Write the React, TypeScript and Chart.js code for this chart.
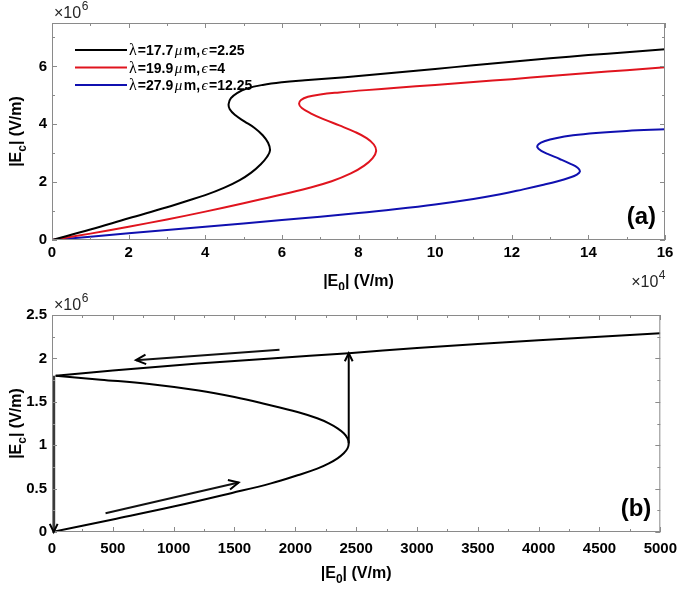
import React, { useEffect, useRef } from "react";
import { Chart, registerables } from "chart.js";
Chart.register(...registerables);

const SANS = '"Liberation Sans", Arial, sans-serif';
const SERIF = '"Liberation Serif", "DejaVu Serif", serif';

// ---------- Panel (a): |E0| in 1e4 V/m, |Ec| in 1e6 V/m ----------
const xTicksA = [0, 2, 4, 6, 8, 10, 12, 14, 16];
const xMinorA = [1, 3, 5, 7, 9, 11, 13, 15];
const yTicksA = [0, 2, 4, 6];
const yMinorA = [1, 3, 5, 7];

const legendLabels = ["λ=17.7μm,ϵ=2.25", "λ=19.9μm,ϵ=4", "λ=27.9μm,ϵ=12.25"];
const seriesColors = ["#000000", "#e0141e", "#1010b0"];

const blackX = [0, 1, 2, 3, 3.5, 4, 4.5, 4.9, 5.2, 5.45, 5.61, 5.69, 5.64, 5.5, 5.28, 5.02, 4.78, 4.64, 4.61, 4.67, 4.83, 5.1, 5.5, 6.0, 6.6, 7.3, 8, 9, 10, 11, 12, 13, 14, 15, 16];
const blackY = [0, 0.36, 0.75, 1.13, 1.34, 1.55, 1.81, 2.07, 2.33, 2.62, 2.87, 3.1, 3.36, 3.62, 3.88, 4.1, 4.32, 4.52, 4.7, 4.9, 5.08, 5.24, 5.36, 5.45, 5.52, 5.59, 5.67, 5.79, 5.91, 6.04, 6.16, 6.28, 6.39, 6.49, 6.59];

const redX = [0, 1, 2, 3, 4, 5, 6, 6.7, 7.3, 7.8, 8.15, 8.37, 8.46, 8.4, 8.2, 7.9, 7.5, 7.1, 6.75, 6.52, 6.45, 6.5, 6.68, 7.0, 7.5, 8.2, 9, 10, 11, 12, 13, 14, 15, 16];
const redY = [0, 0.22, 0.46, 0.71, 0.98, 1.27, 1.57, 1.8, 2.03, 2.3, 2.57, 2.83, 3.07, 3.3, 3.53, 3.74, 3.96, 4.17, 4.38, 4.56, 4.7, 4.84, 4.95, 5.03, 5.1, 5.18, 5.26, 5.36, 5.46, 5.56, 5.67, 5.77, 5.87, 5.97];

const blueX = [0, 2, 4, 6, 8, 9, 10, 11, 11.7, 12.3, 12.8, 13.2, 13.5, 13.7, 13.78, 13.72, 13.52, 13.25, 12.98, 12.77, 12.67, 12.7, 12.87, 13.15, 13.6, 14.2, 15, 16];
const blueY = [0, 0.23, 0.46, 0.69, 0.93, 1.07, 1.23, 1.42, 1.58, 1.75, 1.9, 2.03, 2.15, 2.26, 2.37, 2.5, 2.64, 2.8, 2.95, 3.08, 3.2, 3.31, 3.42, 3.52, 3.62, 3.7, 3.77, 3.83];

// ---------- Panel (b): |E0| in V/m, |Ec| in 1e6 V/m ----------
const xTicksB = [0, 500, 1000, 1500, 2000, 2500, 3000, 3500, 4000, 4500, 5000];
const xMinorB = [250, 750, 1250, 1750, 2250, 2750, 3250, 3750, 4250, 4750];
const yTicksB = [0, 0.5, 1, 1.5, 2, 2.5];
const yMinorB = [0.25, 0.75, 1.25, 1.75, 2.25];

// lower + middle branch (ends at the left cusp)
const lowMidX = [0, 500, 989, 1480, 1800, 2025, 2180, 2276, 2347, 2398, 2429, 2439, 2429, 2398, 2347, 2276, 2180, 2025, 1752, 1500, 1207, 800, 400, 30];
const lowMidY = [0, 0.145, 0.29, 0.45, 0.56, 0.656, 0.73, 0.791, 0.849, 0.907, 0.964, 1.022, 1.079, 1.137, 1.194, 1.252, 1.31, 1.38, 1.475, 1.555, 1.63, 1.705, 1.755, 1.8];
// upper branch (starts at the left cusp)
const upperX = [30, 300, 700, 1200, 1800, 2439, 3000, 4000, 5000];
const upperY = [1.8, 1.835, 1.885, 1.94, 2.0, 2.06, 2.12, 2.21, 2.29];

const jumpUpX = [2439, 2439];
const jumpUpY = [1.022, 2.06];
const dropX = [14, 14];
const dropY = [1.8, 0];
const guideUpperX = [1870, 690];
const guideUpperY = [2.1, 1.98];
const guideLowerX = [440, 1534];
const guideLowerY = [0.215, 0.57];

const zip = (xs: number[], ys: number[]) => xs.map((x, i) => ({ x, y: ys[i] }));

// ---------- helpers ----------
type Seg = { t: string; font: string; dy: number; pad: number };

function richSegs(text: string, size: number): Seg[] {
  const segs: Seg[] = [];
  for (let i = 0; i < text.length; i++) {
    const ch = text[i];
    if (ch === "_") {
      segs.push({ t: text[i + 1], font: `bold ${Math.round(size * 0.72)}px ${SANS}`, dy: size * 0.3, pad: 0 });
      i++;
      continue;
    }
    if (ch === "λ") {
      segs.push({ t: ch, font: `${size + 2}px ${SERIF}`, dy: 0, pad: 1 });
      continue;
    }
    if (ch === "μ" || ch === "ϵ") {
      segs.push({ t: ch, font: `italic ${size + 1}px ${SERIF}`, dy: 0, pad: 1.5 });
      continue;
    }
    const last = segs[segs.length - 1];
    const f = `bold ${size}px ${SANS}`;
    if (last && last.font === f && last.dy === 0) last.t += ch;
    else segs.push({ t: ch, font: f, dy: 0, pad: 0 });
  }
  return segs;
}

function drawRich(ctx: CanvasRenderingContext2D, text: string, x: number, y: number, size: number, align: "left" | "center") {
  const segs = richSegs(text, size);
  let w = 0;
  for (const s of segs) {
    ctx.font = s.font;
    w += ctx.measureText(s.t).width + 2 * s.pad;
  }
  let cx = align === "left" ? x : x - w / 2;
  ctx.textAlign = "left";
  ctx.textBaseline = "alphabetic";
  for (const s of segs) {
    ctx.font = s.font;
    ctx.fillText(s.t, cx + s.pad, y + s.dy);
    cx += ctx.measureText(s.t).width + 2 * s.pad;
  }
}

function drawExp(ctx: CanvasRenderingContext2D, exp: string, x: number, y: number, align: "left" | "right") {
  ctx.fillStyle = "#262626";
  ctx.textBaseline = "alphabetic";
  ctx.textAlign = "left";
  const base = "×10";
  ctx.font = `16px ${SANS}`;
  const w1 = ctx.measureText(base).width;
  ctx.font = `12px ${SANS}`;
  const w2 = ctx.measureText(exp).width;
  const x0 = align === "left" ? x : x - w1 - w2;
  ctx.font = `16px ${SANS}`;
  ctx.fillText(base, x0, y);
  ctx.font = `12px ${SANS}`;
  ctx.fillText(exp, x0 + w1 + 0.5, y - 8);
}

function decorPlugin(opts: any) {
  return {
    id: "decor_" + opts.panel,
    afterDatasetsDraw(chart: any) {
      const ctx: CanvasRenderingContext2D = chart.ctx;
      const { left, right, top, bottom } = chart.chartArea;
      const xs = chart.scales.x;
      const ys = chart.scales.y;
      ctx.save();
      // frame
      ctx.strokeStyle = "#8a8a8a";
      ctx.lineWidth = 1;
      ctx.strokeRect(left + 0.5, top + 0.5, right - left - 1, bottom - top - 1);
      // inward ticks on all sides
      const tick = (vals: number[], len: number) => {
        ctx.beginPath();
        for (const v of vals) {
          const p = Math.round(xs.getPixelForValue(v)) + 0.5;
          if (p < left || p > right + 1) continue;
          ctx.moveTo(p, bottom); ctx.lineTo(p, bottom - len);
          ctx.moveTo(p, top); ctx.lineTo(p, top + len);
        }
        ctx.stroke();
      };
      const ytick = (vals: number[], len: number) => {
        ctx.beginPath();
        for (const v of vals) {
          const p = Math.round(ys.getPixelForValue(v)) + 0.5;
          if (p < top || p > bottom + 1) continue;
          ctx.moveTo(left, p); ctx.lineTo(left + len, p);
          ctx.moveTo(right, p); ctx.lineTo(right - len, p);
        }
        ctx.stroke();
      };
      tick(opts.xMajor, 5); tick(opts.xMinor, 3);
      ytick(opts.yMajor, 5); ytick(opts.yMinor, 3);

      // arrowheads
      ctx.strokeStyle = "#000";
      chart.data.datasets.forEach((ds: any, i: number) => {
        if (!ds.arrowHead) return;
        const pts = chart.getDatasetMeta(i).data;
        const a = pts[pts.length - 2], b = pts[pts.length - 1];
        const ang = Math.atan2(b.y - a.y, b.x - a.x);
        const L = ds.arrowHead, h = 0.45;
        ctx.lineWidth = 2;
        ctx.beginPath();
        ctx.moveTo(b.x - L * Math.cos(ang - h), b.y - L * Math.sin(ang - h));
        ctx.lineTo(b.x, b.y);
        ctx.lineTo(b.x - L * Math.cos(ang + h), b.y - L * Math.sin(ang + h));
        ctx.stroke();
      });

      // axis titles
      ctx.fillStyle = "#000";
      drawRich(ctx, opts.xTitle, (left + right) / 2, bottom + 46, 16, "center");
      ctx.save();
      ctx.translate(21, (top + bottom) / 2);
      ctx.rotate(-Math.PI / 2);
      drawRich(ctx, opts.yTitle, 0, 0, 16, "center");
      ctx.restore();

      // exponent labels
      drawExp(ctx, opts.yExp, left + 2, top - 5, "left");
      if (opts.xExp) drawExp(ctx, opts.xExp, right, bottom + 47, "right");

      // panel label
      ctx.fillStyle = "#000";
      ctx.font = `bold 24px ${SANS}`;
      ctx.textAlign = "right";
      ctx.textBaseline = "alphabetic";
      ctx.fillText(opts.panel, right - 9, bottom - 16);

      // legend
      if (opts.legend) {
        chart.data.datasets.forEach((ds: any, i: number) => {
          const y = top + 27 + i * 17.5;
          ctx.strokeStyle = ds.borderColor;
          ctx.lineWidth = 2;
          ctx.beginPath();
          ctx.moveTo(left + 23, y);
          ctx.lineTo(left + 75, y);
          ctx.stroke();
          ctx.fillStyle = "#000";
          drawRich(ctx, ds.label, left + 76, y + 5, 14, "left");
        });
      }
      ctx.restore();
    },
  };
}

function axisOpts(min: number, max: number, ticks: number[], size: number, padding: number, isX: boolean) {
  return {
    type: "linear",
    min,
    max,
    afterBuildTicks: (s: any) => {
      s.ticks = ticks.map((v) => ({ value: v }));
    },
    afterFit: (s: any) => {
      if (isX) s.height = size;
      else s.width = size;
    },
    ticks: {
      font: { family: SANS, size: 15, weight: "bold" },
      color: "#000",
      padding,
      maxRotation: 0,
      autoSkip: false,
      callback: (v: number) => String(v),
    },
    grid: { display: false, drawTicks: false },
    border: { display: false },
  };
}

function configA(): any {
  const data = [zip(blackX, blackY), zip(redX, redY), zip(blueX, blueY)];
  return {
    type: "scatter",
    data: {
      datasets: data.map((d, i) => ({
        label: legendLabels[i],
        data: d,
        showLine: true,
        borderColor: seriesColors[i],
        backgroundColor: seriesColors[i],
        borderWidth: 2,
        pointRadius: 0,
        tension: 0.4,
      })),
    },
    options: {
      animation: false,
      responsive: false,
      devicePixelRatio: 1,
      layout: { padding: { top: 23, right: 20, left: 0, bottom: 0 } },
      plugins: { legend: { display: false }, tooltip: { enabled: false } },
      scales: {
        x: axisOpts(0, 16, xTicksA, 50, 4, true),
        y: axisOpts(0, 7.5, yTicksA, 52, 5, false),
      },
    },
    plugins: [
      decorPlugin({
        panel: "(a)", legend: true,
        xMajor: xTicksA, xMinor: xMinorA, yMajor: yTicksA, yMinor: yMinorA,
        xTitle: "|E_0| (V/m)", yTitle: "|E_c| (V/m)", xExp: "4", yExp: "6",
      }),
    ],
  };
}

function configB(): any {
  const line = (xs: number[], ys: number[], w: number, color: string, head: number, tension = 0) => ({
    label: "",
    data: zip(xs, ys),
    showLine: true,
    borderColor: color,
    backgroundColor: color,
    borderWidth: w,
    pointRadius: 0,
    tension,
    arrowHead: head,
  });
  return {
    type: "scatter",
    data: {
      datasets: [
        line(lowMidX, lowMidY, 2, "#000", 0, 0.4),
        line(upperX, upperY, 2, "#000", 0, 0.4),
        line(jumpUpX, jumpUpY, 2, "#000", 9),
        line(dropX, dropY, 3, "#3a3a3a", 9),
        line(guideUpperX, guideUpperY, 2, "#111", 11),
        line(guideLowerX, guideLowerY, 2, "#111", 11),
      ],
    },
    options: {
      animation: false,
      responsive: false,
      devicePixelRatio: 1,
      layout: { padding: { top: 25, right: 21, left: 0, bottom: 0 } },
      plugins: { legend: { display: false }, tooltip: { enabled: false } },
      scales: {
        x: axisOpts(0, 5000, xTicksB, 57, 8, true),
        y: axisOpts(0, 2.5, yTicksB, 52, 5, false),
      },
    },
    plugins: [
      decorPlugin({
        panel: "(b)", legend: false,
        xMajor: xTicksB, xMinor: xMinorB, yMajor: yTicksB, yMinor: yMinorB,
        xTitle: "|E_0| (V/m)", yTitle: "|E_c| (V/m)", yExp: "6",
      }),
    ],
  };
}

function Plot({ make, top, height }: { make: () => any; top: number; height: number }) {
  const ref = useRef<HTMLCanvasElement>(null);
  useEffect(() => {
    const chart = new Chart(ref.current as HTMLCanvasElement, make());
    return () => chart.destroy();
  }, []);
  return (
    <canvas
      ref={ref}
      width={685}
      height={height}
      style={{ position: "absolute", left: 0, top, width: 685, height }}
    />
  );
}

export default function App() {
  return (
    <div style={{ position: "absolute", left: 0, top: 0, width: 685, height: 589, background: "#fff" }}>
      <Plot make={configA} top={0} height={290} />
      <Plot make={configB} top={290} height={299} />
    </div>
  );
}
